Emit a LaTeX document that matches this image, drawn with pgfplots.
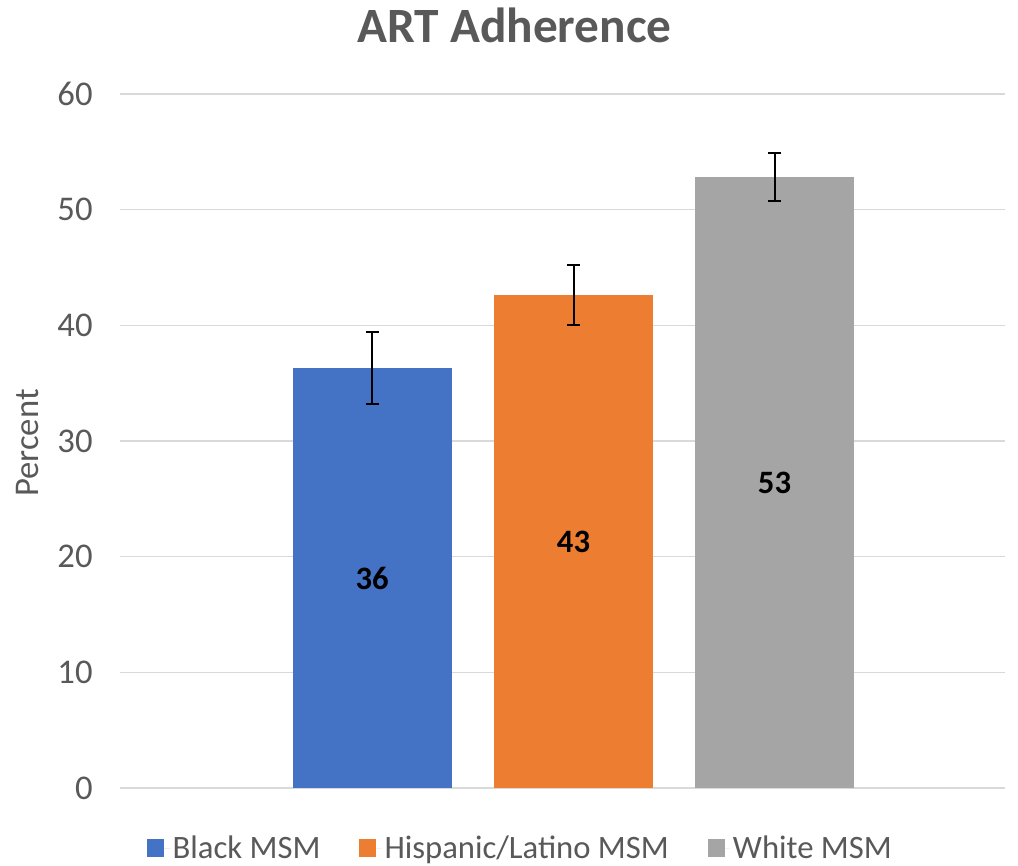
\documentclass[border=0pt]{standalone}
\usepackage{fontspec}
\setmainfont{Carlito}
\usepackage{pgfplots}
\pgfplotsset{compat=1.18}
\definecolor{txt}{HTML}{595959}
\definecolor{gridc}{HTML}{D9D9D9}
\definecolor{cblue}{HTML}{4472C4}
\definecolor{corange}{HTML}{ED7D31}
\definecolor{cgray}{HTML}{A5A5A5}
\begin{document}
\begin{tikzpicture}
\begin{axis}[
  at={(0,0)}, anchor=south west,
  scale only axis, width=663.75pt, height=520.5pt,
  xmin=0, xmax=8.85, ymin=0, ymax=60,
  ytick={0,10,...,60}, xtick=\empty,
  ymajorgrids, grid style={gridc, line width=1pt},
  axis x line*=bottom, axis y line*=left,
  x axis line style={gridc, line width=1pt},
  y axis line style={draw=none},
  major tick length=0pt,
  /pgf/number format/assume math mode=true,
  yticklabel style={font=\fontsize{26}{29}\selectfont, text=txt, xshift=-17pt},
  ylabel={Percent},
  every axis y label/.style={at={(axis description cs:0,0.497)}, xshift=-69pt, rotate=90, anchor=center, font=\fontsize{26}{29}\selectfont, text=txt},
  title={ART Adherence},
  title style={at={(axis description cs:0.4458,1.088)}, anchor=center, font=\fontsize{37}{40}\selectfont\bfseries, text=txt},
  ybar, bar width=1.59, bar shift=0pt,
  legend columns=-1,
  legend style={draw=none, at={(axis description cs:0.453,-0.0865)}, anchor=center, font=\fontsize{24.5}{27}\selectfont, text=txt,
     /tikz/every even column/.append style={column sep=27pt}},
  legend image code/.code={\fill[#1] (0pt,-6.4pt) rectangle (12.8pt,6.4pt); \path (0pt,0pt) -- (17pt,0pt);},
  error bars/y dir=both, error bars/y explicit,
  error bars/error bar style={black, line width=1.5pt},
  error bars/error mark options={rotate=90, black, mark size=4.75pt, line width=1.5pt},
]
\addplot[fill=cblue, draw=none] coordinates {(2.522,36.28) += (0,3.17) -= (0,3.11)};
\addlegendentry{Black MSM}
\addplot[fill=corange, draw=none] coordinates {(4.535,42.62) += (0,2.60) -= (0,2.59)};
\addlegendentry{Hispanic/Latino MSM}
\addplot[fill=cgray, draw=none] coordinates {(6.545,52.81) += (0,2.09) -= (0,2.06)};
\addlegendentry{White MSM}
\addplot[forget plot, draw=none, no marks, nodes near coords, point meta=explicit symbolic,
  every node near coord/.append style={anchor=center, font=\fontsize{24.5}{27}\selectfont\bfseries, text=black}]
  coordinates {(2.522,18.14)[36] (4.535,21.31)[43] (6.545,26.40)[53]};
\end{axis}
\path[use as bounding box] (-90pt,-57.75pt) rectangle (673.5pt,591pt);
\end{tikzpicture}
\end{document}
